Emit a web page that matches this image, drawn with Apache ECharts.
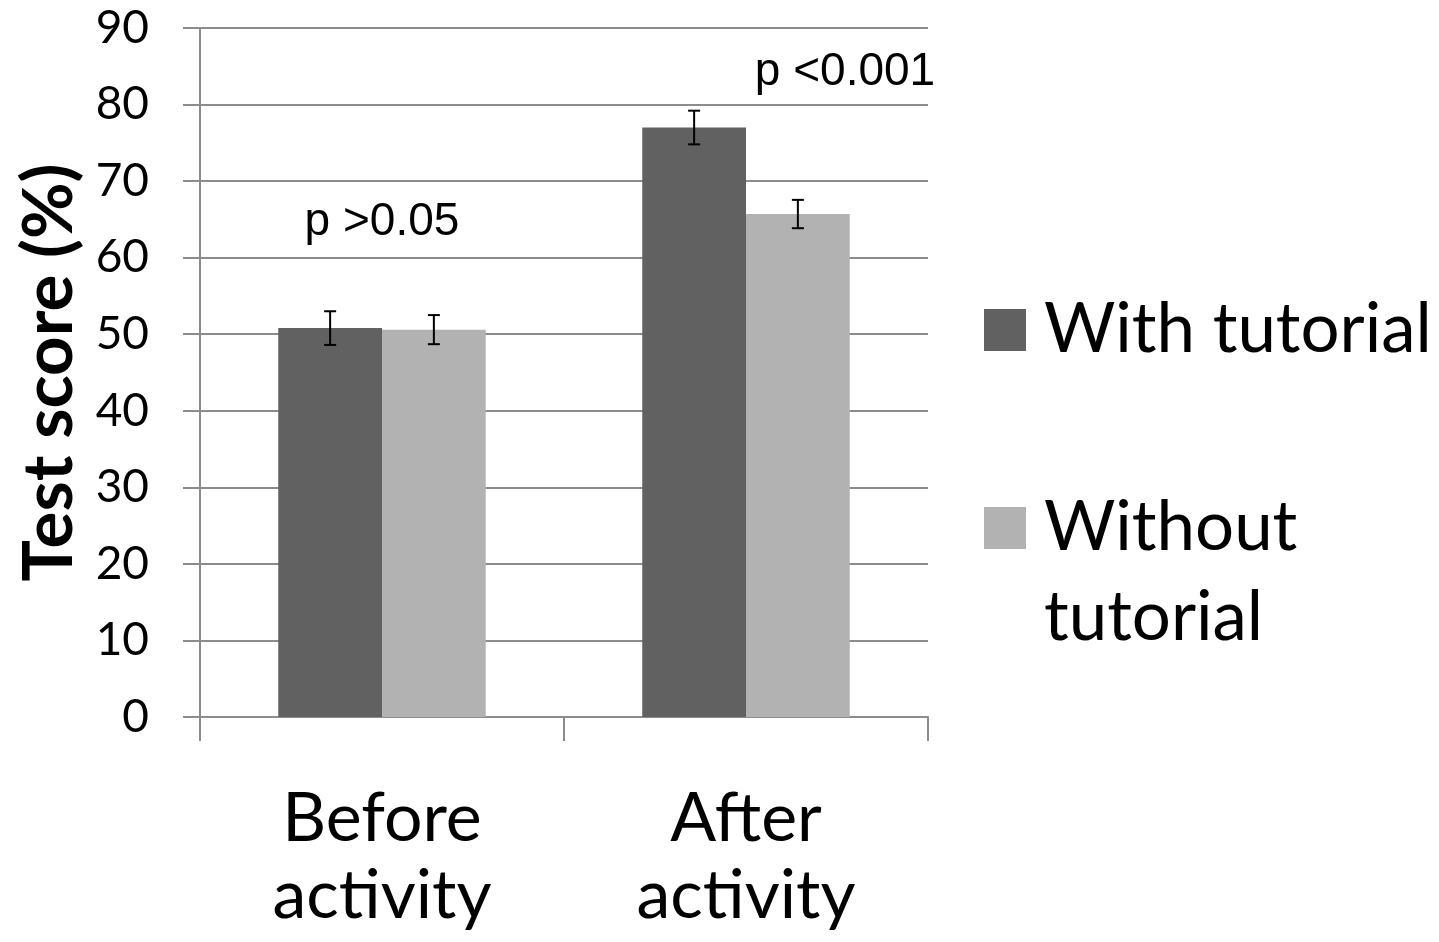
<!DOCTYPE html>
<html>
<head>
<meta charset="utf-8">
<script src="https://cdn.jsdelivr.net/npm/echarts@6/dist/echarts.min.js"></script>
<style>html,body{margin:0;padding:0;background:#fff;}#c{width:1439px;height:942px;}</style>
</head>
<body>
<div id="c"></div>
<script>
const categories = ['Before\nactivity', 'After\nactivity'];
const seriesNames = ['With tutorial', 'Without tutorial'];
const withTutorial = [50.8, 77.0];
const withoutTutorial = [50.6, 65.7];
const withErr = [2.2, 2.2];
const withoutErr = [1.9, 1.85];
const pLabels = ['p >0.05', 'p <0.001'];
const pLabelY = [64.6, 84.2];
const yTicks = [0, 10, 20, 30, 40, 50, 60, 70, 80, 90];

const FONT = 'Lato';
const GAP = 0.43;
const pOffsets = [0, 99];

const chart = echarts.init(document.getElementById('c'), null, {renderer: 'canvas'});

function errData(vals, errs, s) {
  return vals.map((v, i) => [i, v, errs[i], s]);
}

const option = {
  animation: false,
  backgroundColor: '#fff',
  grid: {left: 200, right: 511, top: 28, bottom: 225, containLabel: false},
  legend: {
    orient: 'vertical',
    left: 984,
    top: 285,
    padding: 0,
    itemWidth: 42,
    itemHeight: 42,
    itemGap: 18,
    icon: 'rect',
    data: seriesNames,
    formatter: function (n) { return n === 'Without tutorial' ? '\nWithout\ntutorial' : n; },
    textStyle: {fontFamily: FONT, fontSize: 69, lineHeight: 90, color: '#000', padding: [0, 0, 0, 13]},
    selectedMode: false
  },
  xAxis: {
    type: 'category',
    data: categories,
    axisLine: {lineStyle: {color: '#8c8c8c', width: 2}},
    axisTick: {show: true, length: 24, lineStyle: {color: '#8c8c8c', width: 2}},
    axisLabel: {fontFamily: FONT, fontSize: 68, lineHeight: 77, color: '#000', margin: 64}
  },
  yAxis: {
    type: 'value',
    min: 0, max: 90, interval: 10,
    name: 'Test score (%)',
    nameLocation: 'middle',
    nameGap: 116,
    nameTextStyle: {fontFamily: FONT, fontWeight: 'bold', fontSize: 69, color: '#000'},
    axisLine: {show: true, lineStyle: {color: '#8c8c8c', width: 2}},
    axisTick: {show: true, length: 17, lineStyle: {color: '#8c8c8c', width: 2}},
    axisLabel: {fontFamily: FONT, fontSize: 46, color: '#000', margin: 51,
      formatter: function (v) { return yTicks.indexOf(v) >= 0 ? String(v) : ''; }},
    splitLine: {lineStyle: {color: '#8c8c8c', width: 2}}
  },
  series: [
    {name: seriesNames[0], type: 'bar', data: withTutorial, itemStyle: {color: '#616161'},
      barGap: '0%', barCategoryGap: (GAP * 100) + '%'},
    {name: seriesNames[1], type: 'bar', data: withoutTutorial, itemStyle: {color: '#b2b2b2'}},
    {
      type: 'custom', silent: true, z: 10,
      data: errData(withTutorial, withErr, 0).concat(errData(withoutTutorial, withoutErr, 1)),
      encode: {x: 0, y: 1},
      renderItem: function (params, api) {
        const i = api.value(0), v = api.value(1), e = api.value(2), s = api.value(3);
        const cw = api.size([1, 0])[0];
        const bw = cw * (1 - GAP) / 2;
        const c = api.coord([i, v]);
        const x = c[0] + (s === 0 ? -bw / 2 : bw / 2);
        const top = api.coord([i, v + e])[1];
        const bot = api.coord([i, v - e])[1];
        const st = {stroke: '#000', lineWidth: 2};
        return {type: 'group', children: [
          {type: 'line', shape: {x1: x, y1: top, x2: x, y2: bot}, style: st},
          {type: 'line', shape: {x1: x - 6, y1: top, x2: x + 6, y2: top}, style: st},
          {type: 'line', shape: {x1: x - 6, y1: bot, x2: x + 6, y2: bot}, style: st}
        ]};
      }
    },
    {
      type: 'custom', silent: true, z: 10,
      data: pLabels.map((t, i) => [i, pLabelY[i]]),
      encode: {x: 0, y: 1},
      renderItem: function (params, api) {
        const i = api.value(0);
        const c = api.coord([i, api.value(1)]);
        return {type: 'text', x: c[0] + pOffsets[i], y: c[1],
          style: {text: pLabels[i], fontFamily: 'Liberation Sans, Arial', fontSize: 46,
            fill: '#000', align: 'center', verticalAlign: 'middle'}};
      }
    }
  ]
};
chart.setOption(option);
</script>
</body>
</html>
